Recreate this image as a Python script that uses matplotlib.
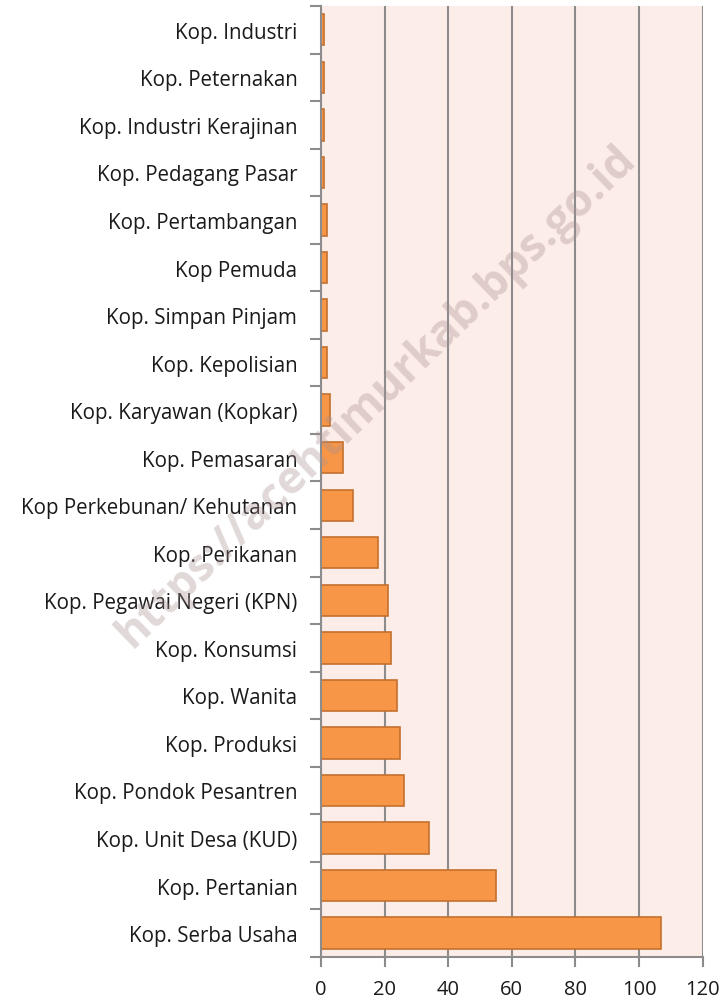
import matplotlib
matplotlib.use("Agg")
import matplotlib.pyplot as plt
import numpy as np

plt.rcParams['font.family'] = ['Open Sans', 'DejaVu Sans']

# data (top to bottom as shown)
kategori = ["Kop. Industri", "Kop. Peternakan", "Kop. Industri Kerajinan",
            "Kop. Pedagang Pasar", "Kop. Pertambangan", "Kop Pemuda",
            "Kop. Simpan Pinjam", "Kop. Kepolisian", "Kop. Karyawan (Kopkar)",
            "Kop. Pemasaran", "Kop Perkebunan/ Kehutanan", "Kop. Perikanan",
            "Kop. Pegawai Negeri (KPN)", "Kop. Konsumsi", "Kop. Wanita",
            "Kop. Produksi", "Kop. Pondok Pesantren", "Kop. Unit Desa (KUD)",
            "Kop. Pertanian", "Kop. Serba Usaha"]
jumlah = [1, 1, 1, 1, 2, 2, 2, 2, 3, 7, 10, 18, 21, 22, 24, 25, 26, 34, 55, 107]
xticks = [0, 20, 40, 60, 80, 100, 120]

fig = plt.figure(figsize=(7.26, 10.03), dpi=100)
ax = fig.add_axes([0.442, 0.045, 0.526, 0.948])
ax.set_facecolor('#fcede9')

y = np.arange(len(kategori))
ax.barh(y, jumlah, height=0.66, color='#f79646', edgecolor='#c4702e',
        linewidth=1.2, zorder=3)

ax.set_xlim(0, 120)
ax.set_ylim(len(kategori) - 0.5, -0.5)
ax.set_xticks(xticks)
ax.set_xticklabels([str(v) for v in xticks], fontsize=14.5, color='#1a1a1a')
ax.set_yticks(y)
ax.set_yticklabels(kategori, fontsize=14.8, color='#1a1a1a')
ax.set_yticks(np.arange(len(kategori) + 1) - 0.5, minor=True)
ax.tick_params(axis='y', which='major', length=0, pad=17)
ax.tick_params(axis='y', which='minor', length=8, width=1.5, color='#8c8c8c')
ax.tick_params(axis='x', length=7, width=1.5, color='#8c8c8c', pad=9)

ax.grid(axis='x', color='#8c8c8c', linewidth=1.5, zorder=1)
for side in ['top', 'right']:
    ax.spines[side].set_visible(False)
for side in ['left', 'bottom']:
    ax.spines[side].set_color('#8c8c8c')
    ax.spines[side].set_linewidth(1.5)
    ax.spines[side].set_zorder(4)

fig.text(0.519, 0.604, "https://acehtimurkab.bps.go.id", rotation=44,
         fontsize=32.5, fontweight='bold', color='#a89090', alpha=0.35,
         ha='center', va='center')

plt.savefig("out.png", dpi=100)
